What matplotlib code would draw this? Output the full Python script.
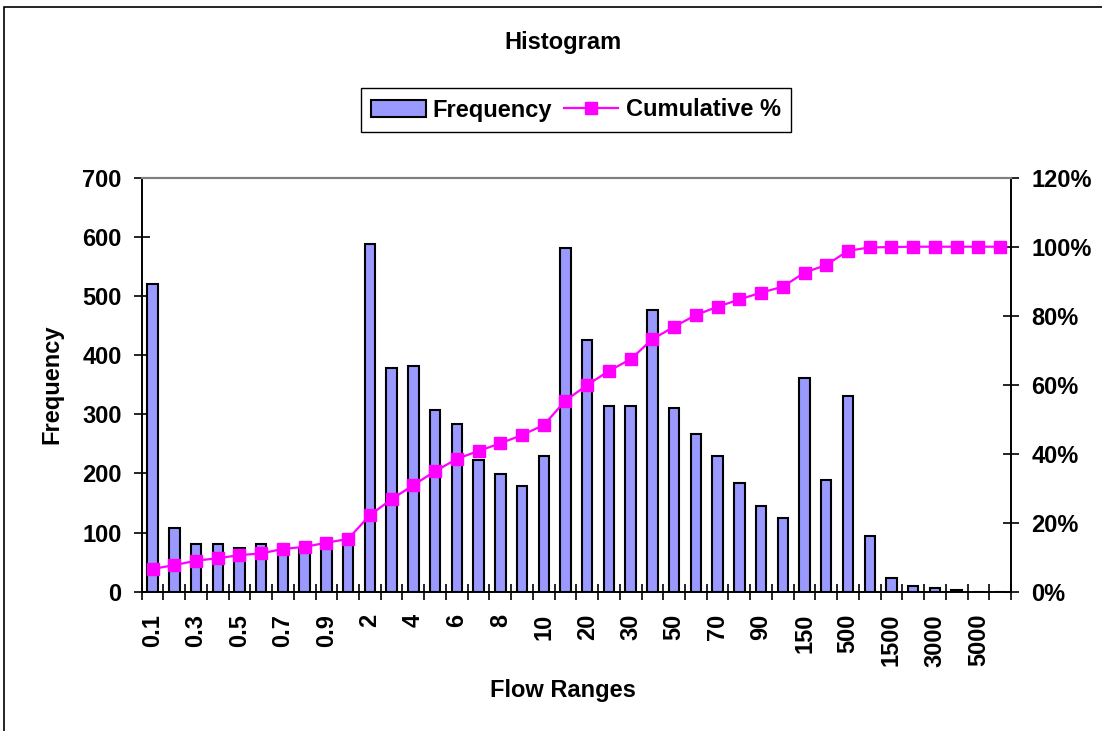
import matplotlib.pyplot as plt
from matplotlib.patches import Patch, Rectangle
from matplotlib.lines import Line2D
from matplotlib.ticker import PercentFormatter, FixedLocator
import numpy as np

plt.rcParams['font.family'] = ['Liberation Sans', 'DejaVu Sans']
plt.rcParams['font.weight'] = 'bold'

# Bin labels (flow ranges)
bins = ['0.1', '0.2', '0.3', '0.4', '0.5', '0.6', '0.7', '0.8', '0.9', '1',
        '2', '3', '4', '5', '6', '7', '8', '9', '10', '15',
        '20', '25', '30', '40', '50', '60', '70', '80', '90', '100',
        '150', '200', '500', '1000', '1500', '2000', '3000', '4000', '5000', 'More']

frequency = [520, 108, 81, 81, 74, 81, 78, 72, 74, 95,
             588, 378, 382, 308, 284, 223, 199, 179, 230, 581,
             426, 314, 314, 476, 311, 267, 230, 183, 145, 125,
             361, 189, 331, 95, 24, 10, 7, 3, 0, 0]

cumulative = [6.6, 7.7, 9.0, 9.7, 10.6, 11.1, 12.4, 13.0, 14.2, 15.3,
              22.2, 26.8, 30.9, 34.9, 38.5, 40.8, 43.0, 45.4, 48.3, 55.4,
              59.9, 64.0, 67.4, 73.2, 76.8, 80.2, 82.6, 84.7, 86.7, 88.4,
              92.5, 94.7, 98.8, 99.8, 99.9, 100, 100, 100, 100, 100]

FS = 17
W, H = 1102, 731
fig = plt.figure(figsize=(W / 100, H / 100), dpi=100)

# outer chart border (top and left visible)
fig.patches.append(Rectangle((4 / W, -0.05), 1.2, 1 - 7 / H + 0.05,
                             transform=fig.transFigure, fill=False,
                             edgecolor='black', linewidth=1.2))

ax = fig.add_axes([141.7 / W, 1 - 591.7 / H, (1011 - 141.7) / W, (591.7 - 177.7) / H])
x = np.arange(len(bins))

ax.bar(x, frequency, width=0.48, color='#9999FF', edgecolor='black', linewidth=1.5, zorder=2)
ax.set_xlim(-0.5, len(bins) - 0.5)
ax.set_ylim(0, 700)
ax.set_yticks(range(0, 701, 100))

ax2 = ax.twinx()
ax2.plot(x, np.array(cumulative) / 100, color='#FF00FF', linewidth=1.6,
         marker='s', markersize=8.5, zorder=3)
ax2.set_ylim(0, 1.2)
ax2.set_yticks(np.arange(0, 1.21, 0.2))
ax2.yaxis.set_major_formatter(PercentFormatter(1.0, decimals=0))

ax.set_xticks(x[::2])
ax.set_xticklabels(bins[::2], rotation=90, fontsize=FS, fontweight='bold')
ax.xaxis.set_minor_locator(FixedLocator(np.arange(-0.5, len(bins), 1)))
ax.tick_params(axis='x', which='major', length=0, pad=16)
ax.tick_params(axis='x', which='minor', direction='inout', length=11, width=1.2)
ax.tick_params(axis='y', direction='inout', length=11, width=1.2, pad=9, labelsize=FS)
ax2.tick_params(axis='y', direction='inout', length=11, width=1.2, pad=9, labelsize=FS)
for lab in ax.get_yticklabels() + ax2.get_yticklabels():
    lab.set_fontweight('bold')

for a in (ax, ax2):
    a.spines['top'].set_color('#808080')
    a.spines['top'].set_linewidth(1.5)
    for s in ('left', 'right', 'bottom'):
        a.spines[s].set_linewidth(1.2)

fig.text(563 / W, 1 - 43 / H, 'Histogram', ha='center', va='center', fontsize=FS, fontweight='bold')
fig.text(563 / W, 1 - 690 / H, 'Flow Ranges', ha='center', va='center', fontsize=FS, fontweight='bold')
fig.text(52 / W, 1 - 384 / H, 'Frequency', ha='center', va='center', rotation=90,
         fontsize=FS, fontweight='bold')

handles = [Patch(facecolor='#9999FF', edgecolor='black', linewidth=1.5),
           Line2D([], [], color='#FF00FF', linewidth=1.6, marker='s', markersize=8.5)]
leg = fig.legend(handles, ['Frequency', 'Cumulative %'], ncol=2, loc='center',
                 bbox_to_anchor=(576 / W, 1 - 110 / H), fontsize=FS, frameon=True,
                 fancybox=False, framealpha=1, edgecolor='black', handlelength=2.3,
                 handletextpad=0.3, columnspacing=0.5, borderpad=0.45)
for t in leg.get_texts():
    t.set_fontweight('bold')
leg.get_frame().set_linewidth(1.0)

fig.savefig('out.png', dpi=100)
